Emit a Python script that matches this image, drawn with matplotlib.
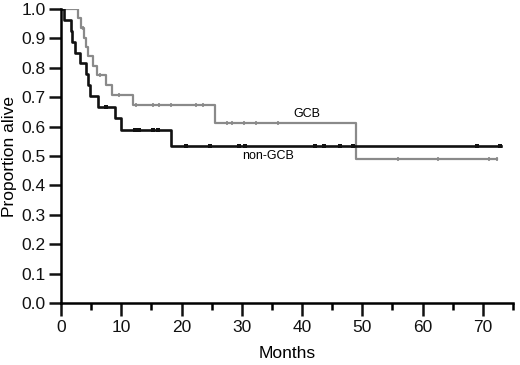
"""Kaplan-Meier style survival curves, GCB vs non-GCB."""

import numpy as np
import matplotlib
matplotlib.use('Agg')
import matplotlib.pyplot as plt
from matplotlib.ticker import MultipleLocator

plt.rcParams['font.family'] = ['Liberation Sans', 'DejaVu Sans']

# step times (months) and survival after each step
gcb_times = [0, 2.75, 3.4, 3.8, 4.1, 4.5, 5.3, 5.9, 7.5, 8.4, 11.9, 25.5, 49.0, 72.4]
gcb_surv = [1.0, 0.968, 0.935, 0.903, 0.871, 0.839, 0.806, 0.774, 0.742, 0.706, 0.673, 0.611, 0.489, 0.489]
gcb_censor = [3.7, 6.4, 9.6, 12.5, 15.2, 16.3, 18.3, 22.4, 23.5, 27.6, 28.4, 30.4, 32.3, 36.0,
              55.9, 62.5, 71.1, 72.3]

ngcb_times = [0, 0.55, 1.6, 1.9, 2.4, 3.1, 4.1, 4.4, 4.8, 6.2, 8.9, 10.0, 18.2, 73.0]
ngcb_surv = [1.0, 0.963, 0.926, 0.889, 0.852, 0.815, 0.778, 0.741, 0.704, 0.667, 0.628, 0.590, 0.534, 0.534]
ngcb_censor = [7.4, 12.2, 13.0, 15.2, 16.1, 20.8, 24.7, 29.5, 30.6, 42.2, 43.6, 46.3, 48.5, 69.1, 72.9]

GRAY = '#8a8a8a'
BLACK = '#111111'


def level_at(times, surv, t):
    idx = np.searchsorted(times, t, side='right') - 1
    return surv[idx]


fig = plt.figure(figsize=(5.2, 3.65), dpi=100)
ax = fig.add_axes([0.1173, 0.1699, 0.8692, 0.8054])

ax.step(gcb_times, gcb_surv, where='post', color=GRAY, linewidth=1.6)
ax.step(ngcb_times, ngcb_surv, where='post', color=BLACK, linewidth=1.9)

ax.plot(gcb_censor, [level_at(gcb_times, gcb_surv, t) for t in gcb_censor],
        linestyle='none', marker='|', markersize=2.5, mew=1.2, color=GRAY)
ax.plot(ngcb_censor, [level_at(ngcb_times, ngcb_surv, t) for t in ngcb_censor],
        linestyle='none', marker='s', markersize=2.2, mew=0, color=BLACK)

ax.text(40.8, 0.643, 'GCB', ha='center', va='center', fontsize=9)
ax.text(34.3, 0.50, 'non-GCB', ha='center', va='center', fontsize=9)

ax.set_xlim(0, 75)
ax.set_ylim(0, 1.0)
ax.spines['top'].set_visible(False)
ax.spines['right'].set_visible(False)
ax.spines['left'].set_linewidth(1.8)
ax.spines['bottom'].set_linewidth(1.8)

ax.xaxis.set_major_locator(MultipleLocator(10))
ax.xaxis.set_minor_locator(MultipleLocator(5))
ax.yaxis.set_major_locator(MultipleLocator(0.1))
ax.yaxis.set_major_formatter(matplotlib.ticker.FormatStrFormatter('%.1f'))
ax.tick_params(axis='both', which='major', direction='out', length=9, width=1.8,
               labelsize=12.5, colors=BLACK)
ax.tick_params(axis='x', which='minor', direction='out', length=5, width=1.8)
ax.tick_params(axis='x', which='major', pad=3)
ax.tick_params(axis='y', which='major', pad=2)

ax.set_xlabel('Months', fontsize=12.5, labelpad=8)
ax.set_ylabel('Proportion alive', fontsize=12.5, labelpad=3)
for sp in ax.spines.values():
    sp.set_clip_on(False)

fig.savefig('out.png', dpi=100)
plt.close(fig)
